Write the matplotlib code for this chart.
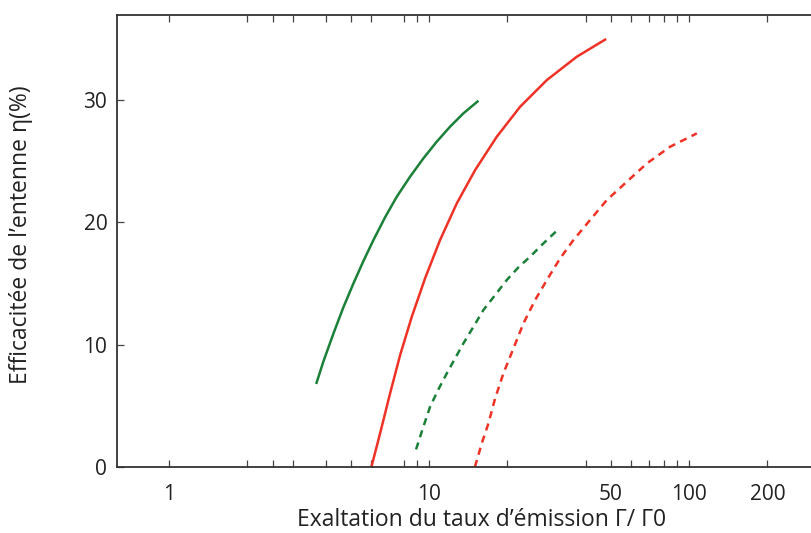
import matplotlib
matplotlib.use("Agg")
import matplotlib.pyplot as plt
from matplotlib.ticker import FixedLocator, NullLocator

plt.rcParams['font.family'] = ['Open Sans', 'DejaVu Sans']

# Data
green_solid_x = [3.68, 3.92, 4.29, 4.68, 5.12, 5.59, 6.11, 6.77, 7.51, 8.45, 9.51, 10.7, 12.04, 13.55, 15.48]
green_solid_y = [6.79, 8.61, 10.93, 13.05, 15.02, 16.84, 18.56, 20.41, 22.10, 23.74, 25.24, 26.6, 27.83, 28.92, 29.95]

red_solid_x = [6.0, 6.48, 7.08, 7.74, 8.58, 9.65, 11.02, 12.78, 15.03, 18.21, 22.39, 28.36, 36.98, 47.96]
red_solid_y = [0.0, 2.75, 6.02, 9.16, 12.29, 15.43, 18.56, 21.56, 24.28, 27.01, 29.46, 31.64, 33.55, 35.0]

green_dash_x = [8.91, 9.46, 10.09, 10.86, 11.7, 12.59, 13.55, 14.81, 16.18, 17.94, 19.89, 22.06, 24.46, 27.53, 30.97]
green_dash_y = [1.44, 3.16, 4.93, 6.35, 7.66, 8.89, 10.11, 11.47, 12.84, 14.06, 15.29, 16.33, 17.2, 18.29, 19.32]

red_dash_x = [15.0, 15.94, 16.91, 17.94, 19.31, 21.1, 23.06, 25.56, 28.36, 31.9, 35.9, 41.6, 48.24, 57.6, 68.8, 84.5, 107]
red_dash_y = [0.0, 1.93, 3.57, 5.61, 7.66, 9.7, 11.75, 13.65, 15.29, 17.06, 18.56, 20.2, 21.83, 23.33, 24.83, 26.19, 27.28]

x_ticks = [1, 2, 2.5, 3, 4, 5, 6, 8, 9, 10, 20, 40, 50, 60, 70, 80, 90, 100, 200]
x_labeled = {1: "1", 10: "10", 50: "50", 100: "100", 200: "200"}
y_ticks = [0, 10, 20, 30]

green = "#1b8038"
red = "#ee3226"

fig = plt.figure(figsize=(8.11, 5.33), dpi=100)
ax = fig.add_axes([117/811, 1 - 467/533, (811-117)/811, (467-15)/533])

lw = 1.8
ax.plot(green_solid_x, green_solid_y, color=green, lw=lw, solid_capstyle='butt')
ax.plot(red_solid_x, red_solid_y, color=red, lw=lw, solid_capstyle='butt')
ax.plot(green_dash_x, green_dash_y, color=green, lw=lw, dashes=(2.9, 2.2))
ax.plot(red_dash_x, red_dash_y, color=red, lw=lw, dashes=(2.9, 2.2))

ax.set_xscale('log')
ax.set_xlim(0.631, 294)
ax.set_ylim(0, 36.96)

ax.xaxis.set_major_locator(FixedLocator(x_ticks))
ax.xaxis.set_minor_locator(NullLocator())
ax.set_xticklabels([x_labeled.get(t, "") for t in x_ticks])
ax.set_yticks(y_ticks)
ax.set_yticklabels([str(v) for v in y_ticks])

ax.tick_params(axis='x', which='both', direction='in', top=True, bottom=True,
               length=5, width=0.9, color='#444444', labelsize=15, pad=12,
               labelcolor='#222222')
ax.tick_params(axis='y', which='both', direction='in', left=True, right=False,
               length=5, width=0.9, color='#444444', labelsize=15, pad=7,
               labelcolor='#222222')

for s in ['left', 'bottom', 'top']:
    ax.spines[s].set_linewidth(1.3)
    ax.spines[s].set_color('#333333')
ax.spines['right'].set_visible(False)

ax.set_xlabel("Exaltation du taux d\u2019\u00e9mission \u0393/ \u03930", fontsize=16.5, color='#222222')
ax.xaxis.set_label_coords((482-117)/694, -(508-467)/452)
ax.set_ylabel("Efficacit\u00e9e de l\u2019entenne \u03b7(%)", fontsize=16.5, color='#222222')
ax.yaxis.set_label_coords(-(117-33)/694, (467-235)/452)

fig.savefig("out.png", dpi=100)
